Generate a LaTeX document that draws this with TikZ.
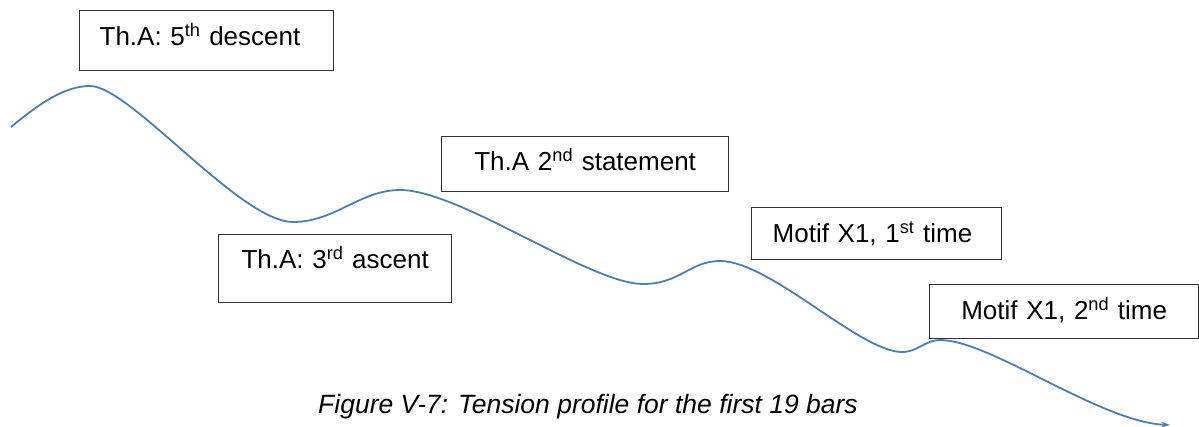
\documentclass[tikz,border=0pt]{standalone}
\usepackage{fontspec}
\setmainfont{Liberation Sans}
\usepackage{tikz}
\usetikzlibrary{arrows.meta}
\usepackage{xcolor}
\definecolor{curveblue}{RGB}{74,126,187}

\begin{document}
\begin{tikzpicture}[x=1pt,y=-1pt,
  box/.style={draw=black!80, line width=1.3pt, inner ysep=0pt, font=\fontsize{26}{31}\selectfont},
  profileline/.style={color=curveblue, line width=1.8pt}]

\useasboundingbox (0,0) rectangle (1199,427);

% labels
\node[box, anchor=north west, inner xsep=20pt, text width=214pt, align=left, text height=35pt, text depth=25pt] (descent) at (79,10) {Th.A: 5\textsuperscript{th} descent};
\node[box, anchor=north west, inner xsep=0pt, text width=287pt, align=center, text height=34pt, text depth=21pt] (statement) at (441,136) {Th.A 2\textsuperscript{nd} statement};
\node[box, anchor=north west, inner xsep=0pt, text width=233pt, align=center, text height=34pt, text depth=34pt] (ascent) at (218,234) {Th.A: 3\textsuperscript{rd} ascent};
\node[box, anchor=north west, inner xsep=21pt, text width=208pt, align=left, text height=35pt, text depth=17pt] (motifone) at (751,207) {Motif X1, 1\textsuperscript{st} time};
\node[box, anchor=north west, inner xsep=0pt, text width=269pt, align=center, text height=35pt, text depth=19pt] (motiftwo) at (929,284) {Motif X1, 2\textsuperscript{nd} time};

% tension curve
\coordinate (start) at (11,127);
\coordinate (finish) at (1170,425);
\draw[profileline, -{Stealth[length=9pt,width=6pt]}] (start)
  .. controls (40,103) and (65,86) .. (90,86)
  .. controls (130,86) and (240,222) .. (293,222)
  .. controls (335,222) and (360,190) .. (400,190)
  .. controls (460,190) and (590,284) .. (643,284)
  .. controls (680,284) and (690,261) .. (720,261)
  .. controls (770,261) and (860,352) .. (902,352)
  .. controls (918,352) and (925,340) .. (940,340)
  .. controls (990,340) and (1100,422) .. (finish);

% caption
\node[anchor=base, font=\fontsize{26.5}{31}\selectfont\itshape] (caption) at (588,413) {Figure V-7: Tension profile for the first 19 bars};

\end{tikzpicture}
\end{document}
